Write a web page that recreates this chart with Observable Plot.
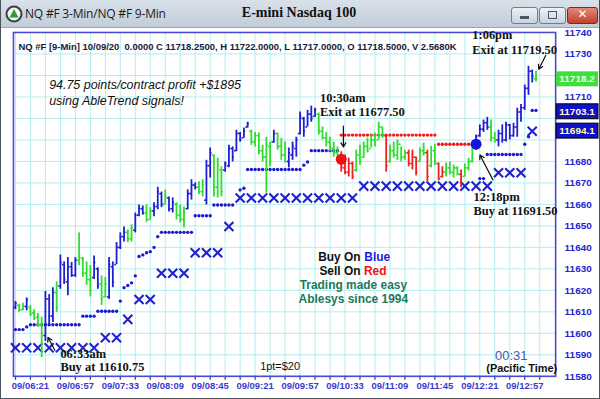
<!DOCTYPE html>
<html><head><meta charset="utf-8">
<script src="https://cdn.jsdelivr.net/npm/d3@7"></script>
<script src="https://cdn.jsdelivr.net/npm/@observablehq/plot@0.6"></script>
<style>
body{margin:0;background:#fff;}
#win{position:relative;width:600px;height:399px;overflow:hidden;background:#fff;box-sizing:border-box;border:1px solid #4a525a;border-top:none;}
#titlebar{position:absolute;left:0;top:0;width:600px;height:27px;background:linear-gradient(#d9e1ea,#c2cdd9);border-bottom:1px solid #98a6b6;font-family:"Open Sans","DejaVu Sans",sans-serif;}
#wtitle{position:absolute;left:24px;top:5px;font-size:12px;color:#1b1b1b;letter-spacing:-0.2px;}
#ctitle{position:absolute;left:0;width:596px;top:5px;text-align:center;font-family:"Liberation Serif","Times New Roman",serif;font-weight:bold;font-size:14px;color:#111;}
.btn{position:absolute;top:7px;height:15px;border:1px solid #6f7d8c;border-radius:3px;background:linear-gradient(#eef2f6,#c9d3de);}
#bclose{background:linear-gradient(#e58a78,#c2402a);border-color:#7a2a1e;}
#chart{position:absolute;left:0;top:25px;}
</style></head>
<body>
<div id="win">
  <div id="titlebar">
    <svg width="20" height="20" style="position:absolute;left:3px;top:4px">
      <circle cx="10" cy="10" r="7.5" fill="#f4f6f4" stroke="#3b3f44" stroke-width="2"/>
      <path d="M10 5 L14.5 13.5 L5.5 13.5 Z" fill="#2f9a3a"/>
    </svg>
    <div id="wtitle">NQ #F 3-Min/NQ #F 9-Min</div>
    <div id="ctitle">E-mini Nasdaq 100</div>
    <div class="btn" style="left:510px;width:25px"><div style="position:absolute;left:8px;top:8px;width:9px;height:3px;background:#4d5866"></div></div>
    <div class="btn" style="left:538px;width:25px"><div style="position:absolute;left:8px;top:3px;width:7px;height:6px;border:1.5px solid #4d5866"></div></div>
    <div class="btn" id="bclose" style="left:566px;width:29px"><div style="position:absolute;left:0;width:29px;top:-1px;text-align:center;color:#fff;font:bold 12px 'DejaVu Sans',sans-serif">✕</div></div>
  </div>
  <div id="chart"></div>
</div>
<script>
// ---------- data ----------
const barStartMinutes = 369;      // 06:09, first 3-min bar
const barIntervalMinutes = 3;
const barColors = ("bggbggggbb"+"bgbbbbbggg"+"gbbggbbbbb"+"ggbbbggbbb"+"gbbgggbbbg"+"gbbgggbbbb"+"bbbggggggb"+"gggbbbbbbb"+"bggggggrrr"+"rggggggggr"+"gggggrrrgg"+"rggrrggggr"+"gggbbbbggb"+"bbbbbbbbbg").split("");
const highs = [11614.75,11613.5,11614,11616.5,11613,11611,11609.25,11607.5,11619.5,11618,
11621.25,11624,11636.5,11633.25,11635.25,11633,11635.25,11646.75,11635.25,11633.25,
11631.5,11636,11630.5,11626.75,11626,11635.25,11633.25,11642.25,11646.75,11649.5,
11648.25,11650.5,11656,11659.75,11659.25,11659.75,11658.5,11660.75,11668,11665.75,
11666.75,11663.5,11663,11660.75,11659.75,11658.75,11666.75,11671.5,11670,11670.5,
11671.5,11680.5,11686.25,11683,11681.5,11677.5,11679.75,11687.5,11686.75,11694.5,
11693.5,11695.5,11698.25,11694.5,11693.5,11693.25,11687.5,11691.25,11689,11694.5,
11693.25,11690.75,11689,11686.25,11689,11691.25,11703,11700.5,11703.75,11705.75,
11704.75,11702.5,11696,11693.5,11691.25,11689,11686.75,11684.5,11683,11681.5,
11679.75,11685.25,11687.5,11689,11690.75,11692.25,11693.25,11698.25,11696,11692.25,
11687.5,11689,11690,11686.75,11685.25,11685.25,11685.25,11682,11686.25,11688.5,
11685.25,11687,11688,11679.25,11677.5,11679.25,11679.75,11678.25,11677.5,11676,
11678.75,11681.5,11688.5,11692.25,11697,11699.25,11700.5,11699.25,11693.5,11694.5,
11697,11698.25,11697.25,11697.75,11704.75,11706.5,11715.5,11724.25,11722.5,11722];
const lows = [11611,11609.75,11610.5,11610.5,11607.75,11606,11602.75,11588.75,11596.25,11604,
11605,11609.75,11620.5,11622.75,11617.5,11626,11626,11631.5,11626,11622.25,
11617,11625,11620.5,11613,11616.5,11615.75,11621.25,11632,11639,11642.5,
11642.25,11642.5,11646.75,11654.25,11655,11651.5,11652.75,11654.25,11657.5,11658.5,
11659.75,11656.5,11656,11652.75,11651.5,11649,11657.5,11662,11666.75,11664.5,
11663.5,11659.75,11672.25,11663.5,11663,11663.5,11675,11677,11679.75,11684.5,
11689,11690.75,11695.5,11687.5,11686.75,11683,11679.75,11665.25,11677.5,11688.5,
11685.25,11680.5,11679.25,11677,11680.5,11682,11692.25,11691.25,11696,11698.25,
11700.5,11692.25,11690,11686.75,11684.5,11682,11679.75,11675,11673.75,11672.75,
11671.5,11675,11678.25,11681.5,11684,11686.25,11686.75,11690,11690.75,11675,
11679.25,11681.5,11680.5,11679.75,11680.5,11677.5,11676,11673.25,11679.75,11682.5,
11670.5,11677,11678,11671,11672.25,11672.75,11673.75,11672.25,11673.25,11667.75,
11672.75,11675.5,11679.25,11685.25,11691.25,11693.5,11694.5,11689,11688.5,11686.75,
11688.5,11689,11690,11691.25,11691.25,11698.25,11703.75,11710.75,11716.5,11717];
const opens = [11612,11613,11611,11612.5,11612,11609.5,11607.5,11604,11599,11616,
11608,11619,11622,11632,11624,11631,11627,11634,11635,11628,
11625,11626,11630,11623,11617,11617,11631,11632,11640,11645,
11647,11644,11648,11655,11658,11656,11653,11657,11659,11665,
11660,11663,11658,11660,11655,11653,11658,11665,11669,11668,
11666,11662,11678,11683,11668,11676,11676,11678,11686,11685,
11693,11691,11696,11694,11689,11692,11685,11682,11687,11689,
11693,11687,11683,11680,11683,11686,11693,11700,11696,11702,
11701,11702,11694,11691,11689,11686,11684,11681,11677,11675,
11679,11676,11683,11682,11687,11686,11690,11690,11696,11692,
11680,11685,11683,11688,11682,11684,11679,11682,11680,11685,
11684,11678,11685,11679,11673,11675,11677,11675,11677,11674,
11673,11677,11680,11687,11692,11695,11698,11696,11691,11690,
11693,11690,11697,11692,11696,11703,11705,11714,11722,11718.5];
const closes = [11614,11611,11613,11615.5,11609,11607,11604,11600,11616,11608,
11619,11612,11633,11625,11631,11627,11634,11636,11628,11625,
11620,11633,11622,11616,11623,11632,11624,11640,11645,11647,
11644,11649,11655,11658,11656,11653,11657,11659,11666,11660,
11664,11658,11661,11655,11653,11656,11665,11669,11668,11666,
11669,11678,11684,11668,11678,11666,11679,11686,11682,11693,
11690,11694,11697.5,11689,11692,11685,11682,11688,11680,11693,
11687,11683,11686,11684,11687,11690,11701,11694,11702,11700,
11704,11694,11691,11689,11686,11684,11681,11677.5,11675,11679,
11673,11683,11680,11687,11685,11690,11688,11696,11692,11678,
11685,11683,11688,11682,11684,11679,11682,11675,11685,11684,
11673,11685,11680,11672,11675,11677,11675,11677,11674,11670,
11677,11680,11687,11691.5,11695,11698,11696,11691,11690,11693,
11690,11697,11692,11696,11703,11705,11714,11722,11719.5,11718.25];
// trailing stop dots (per bar index), null = none
const blueStop = [11601.75,11601.75,11601.75,11603,11604,11604,11604,11604,11604,11604,
11604,11604,11604,11604,11604,11604,11604,11604,11608,11608,
11608,11608,11610.25,11610.25,11610.25,11610.25,11610.25,11610.25,11615,11621.25,
11622.25,11623.5,11626.75,11635.75,11636.5,11637.5,11638,11640,11645,11647,
11647,11647,11647,11647,11647,11647,11647,11647,11654.75,11654.75,
11654.75,11654.75,11654.75,11659.75,11659.75,11659.75,11659.75,11659.75,11659.75,null,
11666.75,11667.5,11676.25,11676.25,11676.25,11676.25,11676.25,11676.25,11676.25,11676.25,
11676.25,11676.25,11676.25,11676.25,11676.25,11676.25,11676.25,11678.25,11679.75,11685,
11685,11685,11685,11685,11685,11685,11685,null,null,null,
null,null,null,null,null,null,null,null,null,null,
null,null,null,null,null,null,null,null,null,null,
null,null,null,null,null,null,null,null,null,null,
null,null,null,null,11672,11672,11683.25,11683.25,11683.25,11683.25,
11683.25,11683.25,11683.25,11683.25,11683.25,11683.25,11688,11691.5,11703.75,11703.75];
const redStopFrom = 87;
const redStop = [11692.25,11692.25,11692.25,11692.25,11692.25,11692.25,11692.25,11692.25,11692.25,11692.25,
11692.25,11692.25,11692.25,11692.25,11692.25,11692.25,11692.25,11692.25,11692.25,11692.25,
11692.25,11692.25,11692.25,11692.25,11692.25,11692.25,11688,11688,11688,11688,
11688,11688,11688,11688,11688,11688];
// X markers (9-min support): bar index and value
const xMarkIndex = [0,3,6,9,12,15,18,21,24,27,30,33,36,39,42,45,48,51,54,57,
60,63,66,69,72,75,78,81,84,87,90,93,96,99,102,105,108,111,114,117,120,123,126,129,132,135,138];
const xMarkValue = [11593.25,11593.25,11593.25,11593.25,11593.25,11593.25,11593.25,11593.25,11598,11598,
11606.5,11615.75,11615.75,11628,11628,11628,11637.5,11637.5,11637.5,11649.75,
11663,11663,11663,11663,11663,11663,11663,11663,11663,11663,11663,
11668.5,11668.5,11668.5,11668.5,11668.5,11668.5,11668.5,11668.5,11668.5,11668.5,11668.5,11668.5,
11674.75,11674.75,11674.75,11694];
// signals
const signalTimes = ["10:30","12:18"];
const signalValues = [11681,11688];
const signalColors = ["#ee1111","#1414e0"];
// axis
const xTickLabels = ["09/06:21","09/06:57","09/07:33","09/08:09","09/08:45","09/09:21","09/09:57","09/10:33","09/11:09","09/11:45","09/12:21","09/12:57"];
const yTicks = [11580,11590,11600,11610,11620,11630,11640,11650,11660,11670,11680,11690,11700,11710,11720,11730,11740];
// right-side value boxes
const boxValues = ["11718.2","11703.1","11694.1"];
const boxFills = ["#3fde3f","#1010c8","#1010c8"];
const boxText = ["#eaffea","#ffffd0","#ffff99"];
// annotations: [time, value, text]
const notes = [
  ["06:36",11715.4,"94.75 points/contract profit +$1895"],
  ["06:36",11708.0,"using AbleTrend signals!"]
];
const callouts = [
  ["10:13",11709.4,"10:30am"],["10:13",11702.9,"Exit at 11677.50"],
  ["12:16",11663.5,"12:18pm"],["12:16",11657.0,"Buy at 11691.50"],
  ["12:15",11738.6,"1:06pm"],["12:15",11731.7,"Exit at 11719.50"],
  ["06:45",11590.2,"06:33am"],["06:45",11584.2,"Buy at 11610.75"]
];
const arrows = [
  ["10:31.7",11696.4,"10:31.7",11686.7],
  ["12:31.5",11671.4,"12:21.1",11683.0],
  ["13:13.8",11729.3,"13:08.2",11722.9],
  ["06:40.6",11592.1,"06:35",11598.1]
];
const legendLines = [
  ["10:11.5",11635.6,"Buy On","#111"],["10:48.5",11635.6,"Blue","#1c1ce0"],
  ["10:12.5",11629.1,"Sell On","#111"],["10:48.2",11629.1,"Red","#ee1111"]
];
const mottoLines = [["10:39.7",11622.6,"Trading made easy"],["10:39.7",11616.1,"Ablesys since 1994"]];
const header = "NQ #F [9-Min] 10/09/20  0.0000 C 11718.2500, H 11722.0000, L 11717.0000, O 11718.5000, V 2.5680K";

// ---------- build ----------
const toMin = s => { const [h,m] = s.split(":"); return +h*60 + (+m); };
const colorMap = {b:"#1e1ed4", g:"#2ede2e", r:"#ee2020"};
const bars = highs.map((h,i)=>({t: barStartMinutes + barIntervalMinutes*i, h, l: lows[i], o: opens[i], c: closes[i], col: colorMap[barColors[i]]}));
const blueDots = blueStop.map((v,i)=>({t: barStartMinutes + barIntervalMinutes*i, v})).filter(d=>d.v!=null);
const redDots = redStop.map((v,k)=>({t: barStartMinutes + barIntervalMinutes*(redStopFrom+k), v}));
const xMarks = xMarkIndex.map((i,k)=>({t: barStartMinutes + barIntervalMinutes*i, v: xMarkValue[k]}));
const signals = signalTimes.map((s,k)=>({t: toMin(s), v: signalValues[k], c: signalColors[k]}));
const labelMinutes = xTickLabels.map(s => toMin(s.slice(3)));
const tickMinutes = d3.range(labelMinutes[0]-12, labelMinutes[labelMinutes.length-1]+13, 12);
const labelOf = new Map(labelMinutes.map((m,k)=>[m, xTickLabels[k]]));
const pm = s => toMin(s.split(".")[0]) + (s.includes(".") ? +("0."+s.split(".")[1]) : 0);
// axis labels hidden behind the value boxes are not drawn
const shownYTicks = yTicks.filter(t => !boxValues.some(b => Math.abs(+b - t) < 6.5));

const serif = "Liberation Serif, Times New Roman, serif";
const plot = Plot.plot({
  width: 600, height: 374,
  marginTop: 7, marginBottom: 22, marginLeft: 12, marginRight: 44,
  style: {fontFamily: "Liberation Sans, Arial, sans-serif", background: "transparent", overflow: "visible"},
  x: {domain: [367.4, 801.75], axis: null},
  y: {domain: [11580, 11740], axis: null},
  color: {type: "identity"},
  marks: [
    Plot.gridX(tickMinutes, {stroke: "#b4eeee", strokeOpacity: 1, strokeWidth: 1}),
    Plot.gridY(yTicks, {stroke: "#b4eeee", strokeOpacity: 1, strokeWidth: 1}),
    Plot.axisY(shownYTicks, {anchor: "right", label: null, tickSize: 0, tickPadding: 9, fill: "#2424d2", fontWeight: "bold", fontSize: 10, tickFormat: d => String(d)}),
    Plot.axisX(tickMinutes, {anchor: "bottom", label: null, tickSize: 4, tickPadding: 2, stroke: "#3a3ad0", strokeWidth: 1.3, fill: "#3a3ad0", fontWeight: "bold", fontSize: 9.5, tickFormat: d => labelOf.get(d) ?? ""}),
    Plot.frame({stroke: "#4a4ad8", strokeWidth: 1.6}),
    Plot.text([header], {frameAnchor: "top-left", dx: 5, dy: 11, textAnchor: "start", fontSize: 9.5, fontWeight: "bold", fill: "#1a1a3c"}),
    // stops
    Plot.dot(xMarks, {x: "t", y: "v", symbol: "times", r: 4.2, stroke: "#2020d0", strokeWidth: 2.1}),
    Plot.dot(blueDots, {x: "t", y: "v", r: 1.7, fill: "#1a1ad0"}),
    Plot.dot(redDots, {x: "t", y: "v", r: 1.7, fill: "#ee1a1a"}),
    // OHLC bars
    Plot.ruleX(bars, {x: "t", y1: "l", y2: "h", stroke: "col", strokeWidth: 1.8}),
    Plot.ruleY(bars, {y: "o", x1: d => d.t - 1.4, x2: "t", stroke: "col", strokeWidth: 1.6}),
    Plot.ruleY(bars, {y: "c", x1: "t", x2: d => d.t + 1.4, stroke: "col", strokeWidth: 1.6}),
    Plot.dot(signals, {x: "t", y: "v", r: 5.5, fill: "c"}),
    // annotations
    Plot.text(notes, {x: d => toMin(d[0]), y: d => d[1], text: d => d[2], textAnchor: "start", fontSize: 12.5, fontStyle: "italic", fill: "#111"}),
    Plot.text(callouts, {x: d => toMin(d[0]), y: d => d[1], text: d => d[2], textAnchor: "start", fontSize: 12.5, fontWeight: "bold", fontFamily: serif, fill: "#111"}),
    Plot.arrow(arrows, {x1: d => pm(d[0]), y1: d => d[1], x2: d => pm(d[2]), y2: d => d[3], stroke: "#111", strokeWidth: 1.2, headLength: 6}),
    Plot.text(legendLines, {x: d => pm(d[0]), y: d => d[1], text: d => d[2], fill: d => d[3], textAnchor: "start", fontSize: 12, fontWeight: "bold"}),
    Plot.text(mottoLines, {x: d => pm(d[0]), y: d => d[1], text: d => d[2], fill: "#1b7a58", fontSize: 12, fontWeight: "bold"}),
    Plot.text(["1pt=$20"], {x: 581, y: 11584.8, fontSize: 11, fill: "#111"}),
    Plot.text(["00:31"], {x: 766.2, y: 11589.4, fontSize: 13, fill: "#4a5aa8"}),
    Plot.text(["(Pacific Time)"], {x: 774.6, y: 11583.6, fontSize: 11, fontWeight: "bold", fill: "#111"})
  ]
});
document.getElementById("chart").appendChild(plot);

// value boxes on the right axis, placed with the plot's y scale
const ys = plot.scale("y");
const svg = d3.select(plot);
boxValues.forEach((v,k) => {
  const yy = ys.apply(+v);
  const g = svg.append("g");
  g.append("rect").attr("x", 557).attr("y", yy - 7.5).attr("width", 42).attr("height", 15)
    .attr("fill", boxFills[k]).attr("stroke", k ? "#000" : "none").attr("stroke-width", 1);
  g.append("text").attr("x", 578).attr("y", yy).attr("dy", "0.35em").attr("text-anchor", "middle")
    .attr("font-size", 10).attr("font-weight", "bold").attr("fill", boxText[k]).text(v);
});
</script>
</body></html>
